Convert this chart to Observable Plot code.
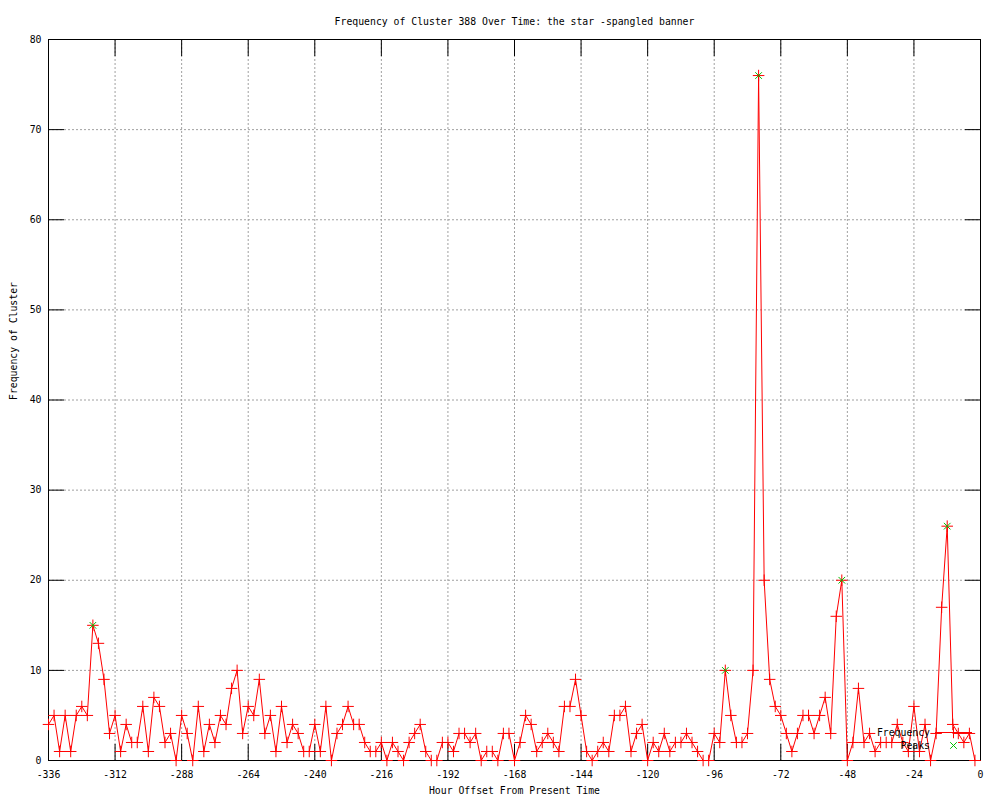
<!DOCTYPE html>
<html>
<head>
<meta charset="utf-8">
<script src="https://cdn.jsdelivr.net/npm/d3@7"></script>
<script src="https://cdn.jsdelivr.net/npm/@observablehq/plot@0.6"></script>
<style>
  html, body { margin: 0; padding: 0; background: #ffffff; }
  #chart { position: relative; width: 1000px; height: 800px; }
</style>
</head>
<body>
<div id="chart"></div>
<script>
// ---- data ----
const titleText = "Frequency of Cluster 388 Over Time: the star -spangled banner";
const xLabel = "Hour Offset From Present Time";
const yLabel = "Frequency of Cluster";
const seriesName = "Frequency";
const peaksName = "Peaks";

const hours = [
  -336,-334,-332,-330,-328,-326,-324,-322,-320,-318,-316,-314,-312,-310,-308,-306,-304,-302,-300,-298,
  -296,-294,-292,-290,-288,-286,-284,-282,-280,-278,-276,-274,-272,-270,-268,-266,-264,-262,-260,-258,
  -256,-254,-252,-250,-248,-246,-244,-242,-240,-238,-236,-234,-232,-230,-228,-226,-224,-222,-220,-218,
  -216,-214,-212,-210,-208,-206,-204,-202,-200,-198,-196,-194,-192,-190,-188,-186,-184,-182,-180,-178,
  -176,-174,-172,-170,-168,-166,-164,-162,-160,-158,-156,-154,-152,-150,-148,-146,-144,-142,-140,-138,
  -136,-134,-132,-130,-128,-126,-124,-122,-120,-118,-116,-114,-112,-110,-108,-106,-104,-102,-100,-98,
  -96,-94,-92,-90,-88,-86,-84,-82,-80,-78,-76,-74,-72,-70,-68,-66,-64,-62,-60,-58,
  -56,-54,-52,-50,-48,-46,-44,-42,-40,-38,-36,-34,-32,-30,-28,-26,-24,-22,-20,-18,
  -16,-14,-12,-10,-8,-6,-4,-2
];
const counts = [
  4,5,1,5,1,5,6,5,15,13,9,3,5,1,4,2,2,6,1,7,
  6,2,3,0,5,3,0,6,1,4,2,5,4,8,10,3,6,5,9,3,
  5,1,6,2,4,3,1,1,4,1,6,0,3,4,6,4,4,2,1,1,
  2,0,2,1,0,2,3,4,1,0,0,2,2,1,3,3,2,3,0,1,
  1,0,3,3,0,2,5,4,1,2,3,2,1,6,6,9,5,1,0,1,
  2,1,5,5,6,1,3,4,0,2,1,3,1,2,2,3,2,1,0,0,
  3,2,10,5,2,2,3,10,76,20,9,6,5,3,1,3,5,5,3,5,
  7,3,16,20,0,2,8,2,3,1,2,2,2,4,2,1,6,1,4,0,
  3,17,26,4,3,2,3,0
];
const peakHours = [-320, -92, -80, -50, -12];
const peakCounts = [15, 10, 76, 20, 26];

const xTicks = [-336,-312,-288,-264,-240,-216,-192,-168,-144,-120,-96,-72,-48,-24,0];
const yTicks = [0,10,20,30,40,50,60,70,80];

// ---- tables ----
const series = hours.map((h, i) => ({hour: h, count: counts[i]}));
const peaks = peakHours.map((h, i) => ({hour: h, count: peakCounts[i]}));

const RED = "#ff0000";
const GREEN = "#00c000";
const GRID = "#a0a0a0";
const FONT = "'DejaVu Sans Mono', 'Liberation Mono', monospace";

const chart = Plot.plot({
  width: 1000,
  height: 800,
  marginTop: 39,
  marginRight: 20,
  marginBottom: 40,
  marginLeft: 48,
  style: {fontFamily: FONT, fontSize: "9.8px", background: "#ffffff", color: "#000000"},
  x: {domain: [-336, 0]},
  y: {domain: [0, 80]},
  marks: [
    Plot.gridX(xTicks, {stroke: GRID, strokeOpacity: 1, strokeDasharray: "2,2"}),
    Plot.gridY(yTicks, {stroke: GRID, strokeOpacity: 1, strokeDasharray: "2,2"}),
    Plot.axisX(xTicks, {anchor: "bottom", tickSize: -16, tickPadding: 27, tickFormat: d => String(d), label: null, stroke: "#000", fill: "#000"}),
    Plot.axisX(xTicks, {anchor: "top", tickSize: -16, tickFormat: () => "", label: null, stroke: "#000"}),
    Plot.axisY(yTicks, {anchor: "left", tickSize: -16, tickPadding: 23, tickFormat: d => String(d), label: null, stroke: "#000", fill: "#000"}),
    Plot.axisY(yTicks, {anchor: "right", tickSize: -16, tickFormat: () => "", label: null, stroke: "#000"}),
    Plot.frame({stroke: "#000000"}),
    Plot.line(series, {x: "hour", y: "count", stroke: RED, strokeWidth: 1}),
    Plot.dot(series, {x: "hour", y: "count", symbol: "plus", r: 3.8, stroke: RED, strokeWidth: 1, fill: "none"}),
    Plot.dot(peaks, {x: "hour", y: "count", symbol: "times", r: 3.1, stroke: GREEN, strokeWidth: 1, fill: "none"}),
    Plot.text([titleText], {frameAnchor: "top", dy: -21, text: d => d, fill: "#000"}),
    Plot.text([xLabel], {frameAnchor: "bottom", dy: 33, text: d => d, fill: "#000"}),
    Plot.text([yLabel], {frameAnchor: "left", dx: -35, rotate: -90, text: d => d, fill: "#000"})
  ]
});

document.getElementById("chart").appendChild(chart);

// ---- legend (key) inside the plot, lower right ----
const svg = d3.select(chart);
const key = svg.append("g").attr("font-family", FONT).attr("font-size", "9.8px");
const keyRows = [
  {label: seriesName, color: RED, y: 732.5, line: true, sym: d3.symbolPlus, size: Math.PI * 3.8 * 3.8},
  {label: peaksName, color: GREEN, y: 745.5, line: false, sym: d3.symbolTimes, size: Math.PI * 3.1 * 3.1}
];
keyRows.forEach(r => {
  key.append("text").attr("x", 930).attr("y", r.y).attr("text-anchor", "end")
    .attr("dominant-baseline", "central").attr("fill", "#000").text(r.label);
  if (r.line) {
    key.append("line").attr("x1", 935).attr("x2", 972).attr("y1", r.y).attr("y2", r.y)
      .attr("stroke", r.color).attr("stroke-width", 1);
  }
  key.append("path").attr("transform", `translate(953.5,${r.y})`)
    .attr("d", d3.symbol(r.sym, r.size)()).attr("stroke", r.color).attr("fill", "none");
});
</script>
</body>
</html>
